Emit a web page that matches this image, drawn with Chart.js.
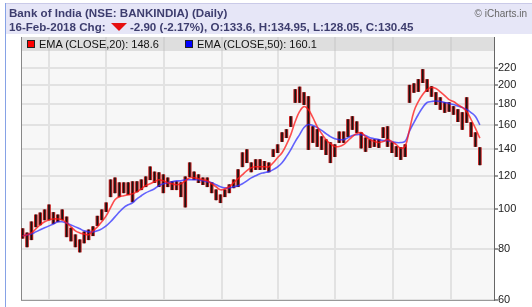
<!DOCTYPE html>
<html>
<head>
<meta charset="utf-8">
<script src="https://cdn.jsdelivr.net/npm/chart.js@4.4.1/dist/chart.umd.min.js"></script>
<style>
  body { margin: 0; background: #fff; }
  #wrap { position: relative; width: 532px; height: 307px; overflow: hidden; font-family: "Liberation Sans", Arial, sans-serif; }
  #chart { position: absolute; left: 0; top: 0; }
  #head { position: absolute; left: 6px; top: 3px; width: 526px; height: 30px; background: #e6e6f7; border-top: 1px solid #cacae8; }
  #frame { position: absolute; left: 5px; top: 3px; width: 1px; height: 304px; background: #86a2e6; }
  .l1, .l2 { position: absolute; left: 3px; font-weight: bold; font-size: 11.6px; color: #3d3d6e; white-space: nowrap; }
  .l1 { top: 2px; }
  .l2 { top: 16px; }
  .tri { display: inline-block; width: 0; height: 0; border-left: 8px solid transparent; border-right: 8px solid transparent; border-top: 8px solid #e61010; margin: 0 3px 0 2px; vertical-align: 0px; }
  .brand { position: absolute; right: 5px; top: 4px; font-size: 10px; color: #666; }
  .leg { position: absolute; top: 38px; font-size: 11px; color: #111; white-space: nowrap; }
  .sq { display: inline-block; width: 6px; height: 6px; border: 1px solid #222; margin-right: 4px; vertical-align: -0px; }
</style>
</head>
<body>
<div id="wrap">
  <canvas id="chart" width="532" height="307"></canvas>
  <div id="frame"></div>
  <div id="head">
    <div class="l1">Bank of India (NSE: BANKINDIA) (Daily)</div>
    <div class="l2">16-Feb-2018 Chg: <span class="tri"></span>-2.90 (-2.17%), O:133.6, H:134.95, L:128.05, C:130.45</div>
    <div class="brand">© iCharts.in</div>
  </div>
  <div class="leg" style="left:27px"><span class="sq" style="background:#f00"></span>EMA (CLOSE,20): 148.6</div>
  <div class="leg" style="left:185px"><span class="sq" style="background:#00f"></span>EMA (CLOSE,50): 160.1</div>
</div>
<script>
// week ending dates (Fridays)
const weeks = [
  '2016-02-19','2016-02-26','2016-03-04','2016-03-11','2016-03-18','2016-03-25','2016-04-01','2016-04-08','2016-04-15','2016-04-22',
  '2016-04-29','2016-05-06','2016-05-13','2016-05-20','2016-05-27','2016-06-03','2016-06-10','2016-06-17','2016-06-24','2016-07-01',
  '2016-07-08','2016-07-15','2016-07-22','2016-07-29','2016-08-05','2016-08-12','2016-08-19','2016-08-26','2016-09-02','2016-09-09',
  '2016-09-16','2016-09-23','2016-09-30','2016-10-07','2016-10-14','2016-10-21','2016-10-28','2016-11-04','2016-11-11','2016-11-18',
  '2016-11-25','2016-12-02','2016-12-09','2016-12-16','2016-12-23','2016-12-30','2017-01-06','2017-01-13','2017-01-20','2017-01-27',
  '2017-02-03','2017-02-10','2017-02-17','2017-02-24','2017-03-03','2017-03-10','2017-03-17','2017-03-24','2017-03-31','2017-04-07',
  '2017-04-14','2017-04-21','2017-04-28','2017-05-05','2017-05-12','2017-05-19','2017-05-26','2017-06-02','2017-06-09','2017-06-16',
  '2017-06-23','2017-06-30','2017-07-07','2017-07-14','2017-07-21','2017-07-28','2017-08-04','2017-08-11','2017-08-18','2017-08-25',
  '2017-09-01','2017-09-08','2017-09-15','2017-09-22','2017-09-29','2017-10-06','2017-10-13','2017-10-20','2017-10-27','2017-11-03',
  '2017-11-10','2017-11-17','2017-11-24','2017-12-01','2017-12-08','2017-12-15','2017-12-22','2017-12-29','2018-01-05','2018-01-12',
  '2018-01-19','2018-01-26','2018-02-02','2018-02-09','2018-02-16'
];

const highs = [
  89.5, 87.4, 93, 96.7, 97.8, 99.5, 102.3, 98, 96.7, 99.5,
  95.6, 89.8, 86.5, 84.1, 87.9, 88.9, 90.5, 96, 99.5, 103.5,
  117.7, 119, 115.8, 115.8, 115.8, 116.5, 116.5, 117.7, 119.7, 126.6,
  123, 122.5, 121.1, 119, 116.5, 116.5, 115.8, 119.7, 129.5, 123,
  121.1, 119, 119, 115.8, 111.3, 108.2, 111.3, 114.5, 117.7, 124.6,
  137, 139.4, 129.5, 131.8, 131.8, 130.5, 129.5, 139.4, 143.3, 153.3,
  156, 167.8, 195.2, 198, 192, 187.7, 158.6, 156, 149.9, 147.4,
  145, 143.3, 154, 154, 165, 167.8, 163, 153.3, 148.9, 147.4,
  147.4, 147.4, 157.7, 158.6, 145, 141.8, 141, 143.3, 200, 201.7,
  206.5, 218.4, 206.5, 198.5, 192, 186.6, 181.5, 181.5, 177.5, 174.5,
  171.6, 186.6, 162.2, 153.3, 141
];
const lows = [
  84.8, 80.8, 84.1, 90.4, 91.4, 94, 94, 92, 93, 94,
  85.5, 83.5, 80.8, 78.5, 82.6, 84.1, 86, 91, 94, 98.5,
  107, 109.4, 107, 109.4, 108.2, 104, 110, 111.3, 113.2, 117.7,
  115.8, 113.2, 109.4, 113.2, 111.3, 111.3, 107, 101, 119.7, 117.7,
  115.8, 114.5, 113.2, 109.4, 105.2, 103.5, 107, 109.4, 112.5, 113.2,
  126.6, 129.5, 123, 124.6, 124.6, 124.6, 123, 134, 137, 145.8,
  149, 158.6, 181.5, 181.5, 179.4, 139.4, 145, 141.8, 139.4, 135.5,
  129.5, 134, 145, 145, 149.9, 156, 153.3, 140.6, 137.9, 141,
  141.8, 141, 149, 141.8, 137, 134, 131.8, 134, 181.5, 192,
  193, 202.8, 193, 187.7, 179.4, 174.5, 171.6, 172.6, 169.7, 163,
  156, 162.2, 149.9, 141.8, 128
];
const ema20 = [
  85.9, 86.5, 87.4, 89.4, 91.4, 93, 94, 94.5, 94.5, 94,
  92.4, 90.4, 88.4, 87.4, 86.9, 86.5, 88.4, 90.4, 93, 96.1,
  100.7, 105.2, 107, 107.6, 108.2, 108.8, 110, 111.9, 113.9, 115.1,
  116.4, 117.7, 117, 115.8, 115.1, 114.5, 115.1, 117, 119, 119,
  118.4, 117.7, 117, 115.1, 113.2, 111.3, 111.9, 113.2, 115.8, 118.4,
  121.1, 123.9, 125.9, 126.6, 126.6, 126.6, 126.6, 129.5, 133.3, 137,
  143.3, 151.6, 163.1, 172.6, 177.5, 174.5, 166.9, 158.6, 152.5, 147.4,
  144.1, 141.8, 141.8, 143.3, 146.6, 149.9, 152.5, 153.3, 149.9, 147.4,
  145.8, 145, 145.8, 147.4, 145.8, 143.3, 140.6, 142, 156, 172.6,
  182.5, 189.8, 195.2, 197.4, 196.3, 192.6, 188.7, 184.5, 182.5, 179.4,
  176.5, 172.6, 165, 157, 148.6
];
const ema50 = [
  85.9, 86.5, 86.9, 87.9, 88.9, 89.9, 90.9, 91.9, 93, 93,
  92.4, 91.4, 90.4, 89.4, 88.4, 87.9, 87.9, 88.4, 89.4, 90.9,
  93, 95.6, 98.3, 100.7, 102.3, 103.5, 105.8, 107.6, 109.4, 110.6,
  111.9, 113.9, 115.1, 115.8, 116.4, 117, 117, 117.7, 117.7, 117.7,
  117.7, 117, 116.4, 115.8, 114.5, 113.2, 112.5, 112.5, 113.2, 113.9,
  115.1, 117, 119, 120.4, 121.8, 122.5, 123.2, 124.6, 126.6, 129.5,
  134, 139.4, 145.8, 151.6, 157.7, 160.4, 159.5, 157.7, 155.2, 152.5,
  149.9, 148.2, 147.4, 147.4, 149, 150.8, 151.6, 151.6, 150.8, 149,
  148.2, 147.4, 146.6, 146.6, 145.8, 145, 145, 146, 154.5, 162.2,
  169.7, 176.5, 181.5, 182.5, 183, 182.5, 181.5, 180.5, 179.4, 178,
  176.5, 174.5, 171.6, 167.8, 160.1
];

const gridDates = ['2016-04-01','2016-07-01','2016-10-01','2017-01-01','2017-04-01','2017-07-01','2017-10-01','2018-01-01'];
const yTicks = [60, 80, 100, 120, 140, 160, 180, 200, 220];

const t0 = Date.parse(weeks[0]);
const dayOf = d => (Date.parse(d) - t0) / 86400000;

const rangeData = weeks.map((d, i) => ({ x: dayOf(d), y: [lows[i], highs[i]] }));

const plotBg = {
  id: 'plotBg',
  beforeDraw(chart) {
    const { ctx, chartArea: a } = chart;
    ctx.save();
    ctx.fillStyle = '#f7f7f7';
    ctx.fillRect(a.left, a.top, a.right - a.left, a.bottom - a.top);
    ctx.restore();
  },
  beforeDatasetsDraw(chart) {
    const { ctx, chartArea: a } = chart;
    ctx.save();
    ctx.fillStyle = 'rgba(190,190,190,0.45)';
    ctx.fillRect(a.left, a.top, a.right - a.left, 14);
    ctx.strokeStyle = '#888';
    ctx.lineWidth = 1;
    ctx.beginPath();
    ctx.moveTo(a.left + 0.5, a.top);
    ctx.lineTo(a.left + 0.5, a.bottom);
    ctx.stroke();
    ctx.restore();
  }
};

const ctx = document.getElementById('chart').getContext('2d');
new Chart(ctx, {
  data: {
    datasets: [
      {
        type: 'line', label: 'EMA (CLOSE,20)', order: 0,
        data: weeks.map((d, i) => ({ x: dayOf(d), y: ema20[i] })),
        borderColor: 'rgba(255,20,20,0.75)', borderWidth: 1.6, pointRadius: 0, tension: 0.4
      },
      {
        type: 'line', label: 'EMA (CLOSE,50)', order: 0,
        data: weeks.map((d, i) => ({ x: dayOf(d), y: ema50[i] })),
        borderColor: 'rgba(40,40,255,0.72)', borderWidth: 1.6, pointRadius: 0, tension: 0.4
      },
      {
        type: 'bar', label: 'wick', order: 1, grouped: false,
        data: rangeData, backgroundColor: '#151515', barThickness: 1
      },
      {
        type: 'bar', label: 'range', order: 2, grouped: false,
        data: rangeData, backgroundColor: '#c42020', barThickness: 3
      }
    ]
  },
  options: {
    responsive: false,
    animation: false,
    layout: { padding: { left: 21, top: 37, right: 0, bottom: 0 } },
    plugins: { legend: { display: false }, tooltip: { enabled: false } },
    scales: {
      x: {
        type: 'linear', min: -2.6, max: 750.5, offset: false,
        afterBuildTicks: s => { s.ticks = gridDates.map(d => ({ value: dayOf(d) })); },
        afterFit: s => { s.height = 7; },
        ticks: { display: false },
        grid: { color: '#e2e2e2', lineWidth: 2, drawTicks: false, offset: false },
        border: { color: '#999', width: 1 }
      },
      y: {
        type: 'logarithmic', position: 'right', min: 60, max: 262,
        afterBuildTicks: s => { s.ticks = yTicks.map(v => ({ value: v })); },
        afterFit: s => { s.width = 38; },
        ticks: {
          callback: v => String(v), color: '#222', padding: 0,
          font: { family: 'Liberation Sans', size: 11 }
        },
        grid: { color: '#e2e2e2', lineWidth: 2, tickLength: 4, tickColor: '#333', tickWidth: 1 },
        border: { color: '#666', width: 1 }
      }
    }
  },
  plugins: [plotBg]
});
</script>
</body>
</html>
